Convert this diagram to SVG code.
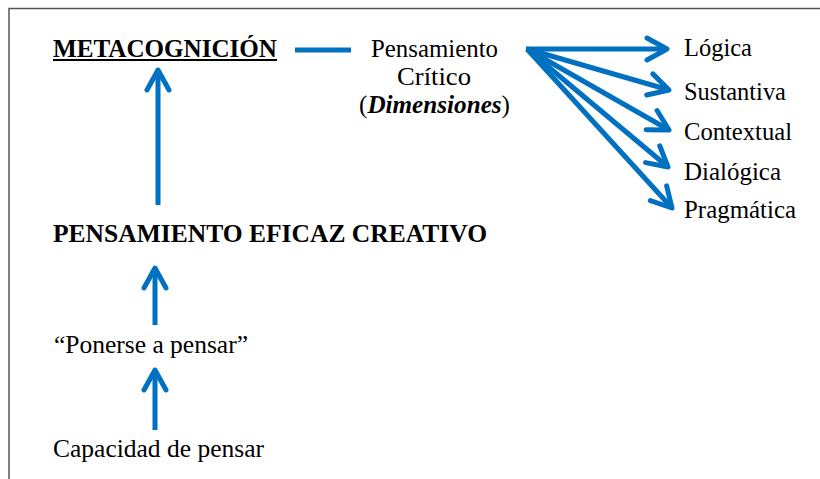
<svg xmlns="http://www.w3.org/2000/svg" width="820" height="479" viewBox="0 0 820 479">
  <style>
    text { font-family: "Liberation Serif", "DejaVu Serif", "Noto Serif", "Times New Roman", Times, serif; font-size: 24.5px; fill: #000; }
    .b { font-weight: bold; }
    .conn { stroke: #0070C0; stroke-width: 5; fill: none; }
    .frame { stroke: #555; stroke-width: 1.5; fill: none; }
  </style>
  <defs>
    <marker id="chev" markerUnits="userSpaceOnUse" viewBox="-26 -16 32 32" refX="0" refY="0" markerWidth="32" markerHeight="32" orient="auto" overflow="visible">
      <path d="M -20,-11 L 0,0 L -20,11" fill="none" stroke="#0070C0" stroke-width="5" stroke-linecap="round" stroke-linejoin="round"/>
    </marker>
  </defs>
  <rect width="820" height="479" fill="#fff"/>
  <path class="frame" d="M 9,479 L 9,8.5 L 820,8.5"/>

  <g id="connectors">
    <line class="conn" x1="158" y1="205" x2="158" y2="70" marker-end="url(#chev)"/>
    <line class="conn" x1="155" y1="325" x2="155" y2="268" marker-end="url(#chev)"/>
    <line class="conn" x1="155" y1="430" x2="155" y2="370" marker-end="url(#chev)"/>
    <line class="conn" x1="295" y1="50" x2="351" y2="50"/>
    <line class="conn" x1="526" y1="49" x2="667" y2="49" marker-end="url(#chev)"/>
    <line class="conn" x1="527" y1="49" x2="669" y2="90" marker-end="url(#chev)"/>
    <line class="conn" x1="527" y1="49" x2="669" y2="130" marker-end="url(#chev)"/>
    <line class="conn" x1="527" y1="49" x2="668" y2="167" marker-end="url(#chev)"/>
    <line class="conn" x1="527" y1="49" x2="672" y2="208" marker-end="url(#chev)"/>
  </g>

  <g id="metacognicion">
    <text class="b" x="53" y="57" textLength="224" lengthAdjust="spacingAndGlyphs">METACOGNICIÓN</text>
    <line x1="53" y1="60" x2="277" y2="60" stroke="#000" stroke-width="2"/>
  </g>
  <g id="pensamiento-critico">
    <text x="371" y="57" textLength="127" lengthAdjust="spacingAndGlyphs">Pensamiento</text>
    <text x="397" y="85" textLength="74" lengthAdjust="spacingAndGlyphs">Crítico</text>
    <text x="359" y="113" textLength="151" lengthAdjust="spacingAndGlyphs">(<tspan font-weight="bold" font-style="italic">Dimensiones</tspan>)</text>
  </g>
  <g id="logica"><text x="684" y="56" textLength="68" lengthAdjust="spacingAndGlyphs">Lógica</text></g>
  <g id="sustantiva"><text x="684" y="100" textLength="102" lengthAdjust="spacingAndGlyphs">Sustantiva</text></g>
  <g id="contextual"><text x="684" y="140" textLength="108" lengthAdjust="spacingAndGlyphs">Contextual</text></g>
  <g id="dialogica"><text x="684" y="180" textLength="97" lengthAdjust="spacingAndGlyphs">Dialógica</text></g>
  <g id="pragmatica"><text x="684" y="218" textLength="112" lengthAdjust="spacingAndGlyphs">Pragmática</text></g>
  <g id="pensamiento-eficaz"><text class="b" x="53" y="242" textLength="434" lengthAdjust="spacingAndGlyphs">PENSAMIENTO EFICAZ CREATIVO</text></g>
  <g id="ponerse"><text x="54" y="353" textLength="194" lengthAdjust="spacingAndGlyphs">“Ponerse a pensar”</text></g>
  <g id="capacidad"><text x="53" y="457" textLength="211" lengthAdjust="spacingAndGlyphs">Capacidad de pensar</text></g>
</svg>
